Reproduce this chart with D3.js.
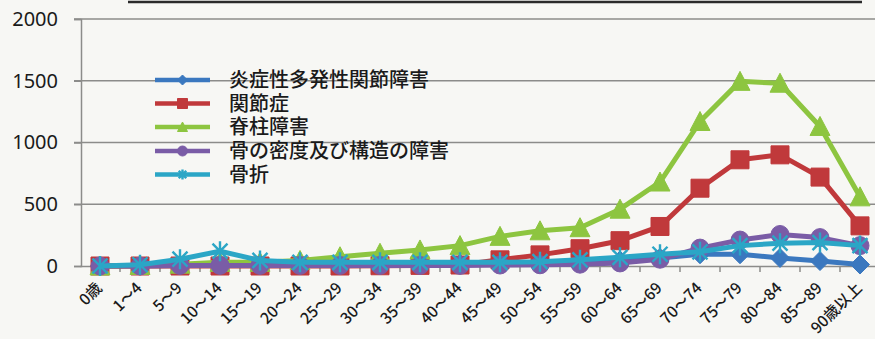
<!DOCTYPE html>
<html><head><meta charset="utf-8">
<script src="https://cdn.jsdelivr.net/npm/d3@7"></script>
<style>
html,body{margin:0;padding:0;background:#f7f7f4;}
svg{display:block;}
</style></head>
<body>
<svg id="chart" width="875" height="339"></svg>
<script>
const categories = ["0歳","1～4","5～9","10～14","15～19","20～24","25～29","30～34","35～39","40～44","45～49","50～54","55～59","60～64","65～69","70～74","75～79","80～84","85～89","90歳以上"];
const seriesNames = ["炎症性多発性関節障害","関節症","脊柱障害","骨の密度及び構造の障害","骨折"];
const rheumatoid = [0,2,5,8,8,8,10,12,15,18,22,28,35,45,65,95,95,65,40,12];
const arthrosis  = [0,0,0,0,0,0,0,2,5,8,50,90,140,205,320,630,860,900,720,325];
const spinal     = [0,5,15,30,30,45,75,103,130,165,240,285,310,460,680,1170,1495,1480,1130,560];
const density    = [0,0,5,5,5,5,5,5,5,5,8,10,15,25,55,145,210,255,230,165];
const fracture   = [0,10,55,120,45,30,30,30,30,30,30,35,50,70,95,115,165,185,190,165];
const yTicks = [0,500,1000,1500,2000];
const colors = ["#3b78bf","#c0393b","#8dc540","#7a5ca6","#2ba6c6"];
const markers = ["diamond","square","triangle","circle","asterisk"];

const allSeries = [rheumatoid, arthrosis, spinal, density, fracture];

const svg = d3.select("#chart");
const x = d3.scaleBand().domain(categories).range([80, 880]).padding(0);
const y = d3.scaleLinear().domain([0, 2000]).range([266, 19]);

// top border line of title box
svg.append("line").attr("x1",128).attr("x2",862).attr("y1",2).attr("y2",2)
  .attr("stroke","#2a2a2a").attr("stroke-width",2.5);

// gridlines
svg.append("g").selectAll("line").data(yTicks.filter(d=>d>0)).join("line")
  .attr("x1",74).attr("x2",875).attr("y1",d=>y(d)).attr("y2",d=>y(d))
  .attr("stroke","#8c8c8a").attr("stroke-width",1.5);

// y axis
const yAxis = d3.axisLeft(y).tickValues(yTicks).tickSize(7).tickPadding(16).tickFormat(d3.format("d"));
const gy = svg.append("g").attr("transform","translate(81,0)").call(yAxis);
gy.select(".domain").attr("stroke","#8c8c8a").attr("stroke-width",1.5);
gy.selectAll(".tick line").attr("stroke","#8c8c8a").attr("stroke-width",1.5);
gy.selectAll(".tick text").attr("font-family","'Noto Sans', sans-serif").attr("font-size",20).attr("fill","#1a1a1a");

// x axis
const xAxis = d3.axisBottom(x).tickSize(0).tickFormat("");
const gx = svg.append("g").attr("transform","translate(0,266)").call(xAxis);
gx.select(".domain").attr("stroke","#8c8c8a").attr("stroke-width",1.5);
gx.selectAll(".tick").remove();
svg.append("g").selectAll("line").data(categories.slice(1)).join("line")
  .attr("x1",d=>x(d)).attr("x2",d=>x(d)).attr("y1",266).attr("y2",272)
  .attr("stroke","#8c8c8a").attr("stroke-width",1.5);
svg.append("g").selectAll("text").data(categories).join("text")
  .attr("transform",d=>`translate(${x(d)+x.bandwidth()/2+3},289) rotate(-45)`)
  .attr("text-anchor","end")
  .attr("font-family","'Noto Sans CJK JP', sans-serif").attr("font-size",15.5).attr("font-weight",500).attr("fill","#1a1a1a")
  .text(d=>d);

function markerPath(type, s){
  const h = s/2;
  if(type==="diamond"){ return `M0,${-h}L${h},0L0,${h}L${-h},0Z`; }
  if(type==="square"){ return `M${-h},${-h}H${h}V${h}H${-h}Z`; }
  if(type==="triangle"){ return `M0,${-h}L${h},${h*0.9}L${-h},${h*0.9}Z`; }
  if(type==="circle"){ return `M${h},0A${h},${h} 0 1,1 ${-h},0A${h},${h} 0 1,1 ${h},0Z`; }
  const a = h*0.75;
  return `M${-a},${-a}L${a},${a}M${-a},${a}L${a},${-a}M0,${-h}V${h}`;
}
function drawMarker(g, type, color, s){
  const p = g.append("path").attr("d", markerPath(type, s));
  if(type==="asterisk") p.attr("fill","none").attr("stroke",color).attr("stroke-width",2.4);
  else p.attr("fill",color).attr("stroke",color).attr("stroke-width",1);
}

const line = d3.line().x((d,i)=>x(categories[i])+x.bandwidth()/2).y(d=>y(d));
const sizes = [19,18,20,18,20];
allSeries.forEach((vals, si)=>{
  const g = svg.append("g");
  g.append("path").datum(vals).attr("d",line).attr("fill","none")
    .attr("stroke",colors[si]).attr("stroke-width",5).attr("stroke-linejoin","round");
  vals.forEach((v,i)=>{
    const mg = g.append("g").attr("transform",`translate(${x(categories[i])+x.bandwidth()/2},${y(v)})`);
    drawMarker(mg, markers[si], colors[si], sizes[si]);
  });
});

// legend
const legend = svg.append("g");
const rowY = [80,103.5,127,151,174.5];
seriesNames.forEach((name, i)=>{
  const gl = legend.append("g").attr("transform",`translate(0,${rowY[i]})`);
  gl.append("line").attr("x1",155).attr("x2",210).attr("y1",0).attr("y2",0)
    .attr("stroke",colors[i]).attr("stroke-width",4.5);
  const mg = gl.append("g").attr("transform","translate(182.5,0)");
  drawMarker(mg, markers[i], colors[i], 10);
  gl.append("text").attr("x",229).attr("y",0).attr("dy","0.36em")
    .attr("font-family","'Noto Sans CJK JP', sans-serif").attr("font-size",20)
    .attr("font-weight",500).attr("fill","#1a1a1a").text(name);
});
</script>
</body></html>
